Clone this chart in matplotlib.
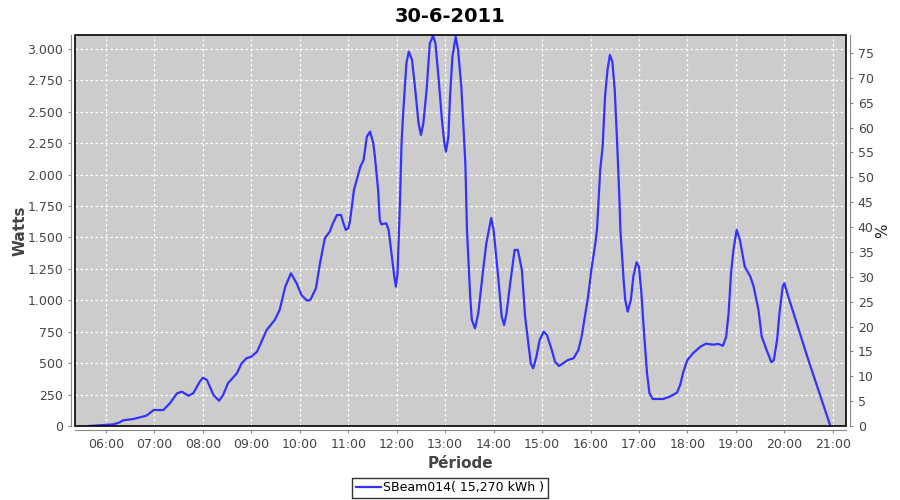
import matplotlib
matplotlib.use("Agg")
import matplotlib.pyplot as plt
from matplotlib.patches import Rectangle
from matplotlib.ticker import FuncFormatter, MultipleLocator

# power readings (time of day, watts)
times = [
    "05:39", "06:09", "06:17", "06:21", "06:34", "06:50", "06:59", "07:11", "07:19", "07:28",
    "07:34", "07:42", "07:48", "07:56", "08:00", "08:05", "08:13", "08:20", "08:25", "08:31",
    "08:42", "08:48", "08:54", "09:00", "09:07", "09:19", "09:29", "09:35", "09:42", "09:49",
    "09:56", "10:02", "10:09", "10:13", "10:20", "10:25", "10:31", "10:37", "10:41", "10:46",
    "10:51", "10:54", "10:57", "11:00", "11:02", "11:05", "11:07", "11:15", "11:19", "11:23",
    "11:27", "11:31", "11:33", "11:37", "11:39", "11:41", "11:47", "11:50", "11:54", "11:57",
    "11:59", "12:01", "12:04", "12:06", "12:08", "12:12",
    "12:15", "12:19", "12:23", "12:27", "12:30", "12:33", "12:37", "12:41", "12:45", "12:48",
    "12:52", "12:56", "12:59", "13:01", "13:04", "13:06", "13:09", "13:13", "13:16", "13:20",
    "13:25", "13:27", "13:31", "13:33", "13:37", "13:41", "13:47", "13:51", "13:57", "14:00",
    "14:06", "14:10", "14:13", "14:16", "14:20", "14:26", "14:30", "14:35", "14:39", "14:43",
    "14:46", "14:49", "14:53", "14:57", "15:02", "15:06", "15:12", "15:16", "15:21", "15:26",
    "15:32", "15:39", "15:45", "15:49", "15:53", "15:57", "16:01", "16:06", "16:08", "16:12",
    "16:15", "16:18", "16:21", "16:24", "16:27", "16:30", "16:33", "16:36", "16:37", "16:41",
    "16:43", "16:46", "16:50", "16:53", "16:57", "17:00", "17:03", "17:06", "17:10", "17:13",
    "17:17", "17:30", "17:38", "17:47", "17:51", "17:55", "18:00", "18:07", "18:16", "18:23",
    "18:32", "18:38", "18:44", "18:48", "18:51", "18:54", "18:57", "19:01", "19:05", "19:11",
    "19:18", "19:22", "19:28", "19:32", "19:38", "19:44", "19:47", "19:51", "19:54", "19:58",
    "20:00", "20:05", "20:28", "20:57",
]
watts = [
    0, 13, 29, 45, 56, 82, 127, 127, 180, 260,
    273, 241, 260, 352, 384, 366, 247, 201, 247, 340,
    419, 499, 539, 552, 591, 764, 844, 923, 1109, 1215,
    1136, 1042, 997, 1003, 1096, 1295, 1494, 1546, 1613, 1679,
    1679, 1613, 1560, 1573, 1626, 1772, 1878, 2063, 2117, 2302,
    2342, 2250, 2143, 1878, 1639, 1605, 1613, 1560, 1347, 1188,
    1109, 1215, 1772, 2250, 2488, 2886,
    2979, 2913, 2674, 2409, 2316, 2409, 2674, 3045, 3104, 3045,
    2754, 2435, 2250, 2183, 2302, 2621, 2939, 3098, 2992, 2700,
    2090, 1560, 1029, 844, 777, 897, 1241, 1454, 1655, 1560,
    1162, 870, 804, 897, 1109, 1401, 1401, 1241, 870, 658,
    499, 459, 552, 684, 751, 724, 605, 512, 477, 499,
    525, 539, 605, 711, 870, 1029, 1241, 1454, 1560, 2037,
    2223, 2621, 2833, 2952, 2899, 2674, 2250, 1772, 1560, 1162,
    1003, 910, 1003, 1188, 1303, 1268, 1056, 764, 419, 260,
    215, 215, 233, 265, 326, 432, 525, 579, 631, 655,
    647, 653, 639, 711, 897, 1215, 1401, 1560, 1480, 1268,
    1188, 1109, 923, 711, 605, 507, 525, 684, 897, 1109,
    1136, 1029, 560, 0,
]
hour_ticks = list(range(6, 22))
series_label = "SBeam014( 15,270 kWh )"
title = "30-6-2011"


def to_hours(s):
    h, m = s.split(":")
    return int(h) + int(m) / 60


x = [to_hours(t) for t in times]

fig = plt.figure(figsize=(9, 5), dpi=100)
fig.patch.set_facecolor("white")
ax = fig.add_axes([75 / 900, 1 - 426 / 500, (846 - 75) / 900, (426 - 35) / 500])
ax.set_facecolor("#cccccc")

ax.plot(x, watts, color="#3333ff", lw=1.6, zorder=3)

ax.set_xlim(5.36, 21.273)
ax.set_ylim(0, 3111)
ax.set_xticks(hour_ticks)
ax.xaxis.set_major_formatter(FuncFormatter(lambda v, p: f"{int(v):02d}:00"))
ax.yaxis.set_major_locator(MultipleLocator(250))
ax.yaxis.set_major_formatter(FuncFormatter(lambda v, p: f"{int(v):,}".replace(",", ".")))
ax.grid(True, color="white", ls=(0, (2, 2)), lw=0.9)
ax.set_axisbelow(True)

for side in ("left", "bottom"):
    ax.spines[side].set_position(("outward", 3))
    ax.spines[side].set_color("#888888")
for side in ("top", "right"):
    ax.spines[side].set_visible(False)
ax.add_patch(Rectangle((0, 0), 1, 1, transform=ax.transAxes, fill=False,
                       ec="black", lw=1.2, zorder=5, clip_on=False))
ax.tick_params(axis="both", colors="#888888", labelcolor="#444444", labelsize=9,
               length=2, width=0.8)

ax2 = ax.twinx()
ax2.set_ylim(0, 78.6)
ax2.yaxis.set_major_locator(MultipleLocator(5))
for side in ("left", "top", "bottom"):
    ax2.spines[side].set_visible(False)
ax2.spines["right"].set_position(("outward", 3))
ax2.spines["right"].set_color("#888888")
ax2.tick_params(axis="y", colors="#888888", labelcolor="#444444", labelsize=9,
                length=2, width=0.8)
ax2.set_ylabel("%", fontsize=11, color="#222222")
ax2.yaxis.set_label_coords((875 - 75) / 771, 0.5)

ax.set_ylabel("Watts", fontsize=11, fontweight="bold", color="#444444")
ax.yaxis.set_label_coords((28 - 75) / 771, 0.5)
ax.set_xlabel("Période", fontsize=11, fontweight="bold", color="#444444", labelpad=4)
fig.suptitle(title, fontsize=14, fontweight="bold", y=0.968, va="center")

leg = fig.legend([ax.lines[0]], [series_label], loc="center", bbox_to_anchor=(450 / 900, 1 - 488 / 500),
                 frameon=True, fancybox=False, edgecolor="black", fontsize=9,
                 handlelength=2, handletextpad=0.2, borderpad=0.3, borderaxespad=0)
leg.get_frame().set_linewidth(1.0)

fig.savefig("out.png", dpi=100)
